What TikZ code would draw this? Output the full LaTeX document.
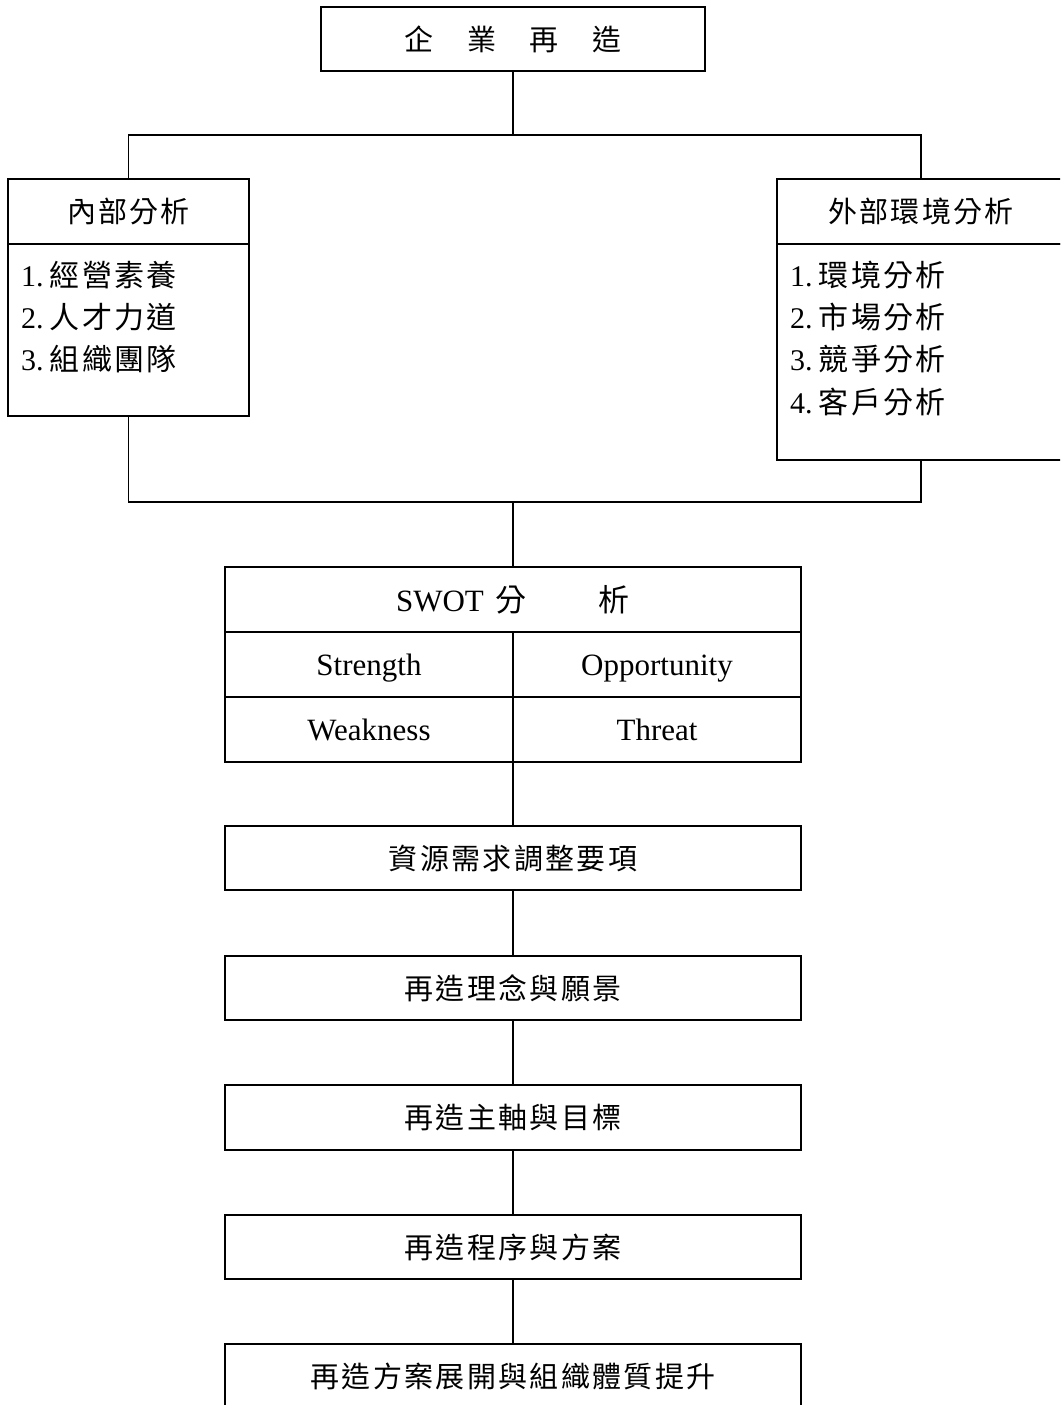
\documentclass[tikz,border=0pt]{standalone}
\usepackage{fontspec}
\setmainfont{Liberation Serif}
\newfontfamily\cjk[LetterSpace=8]{Noto Sans CJK TC}
\begin{document}
\begin{tikzpicture}[x=1pt,y=-1pt,
  ln/.style={line width=1.7pt},
  bx/.style 2 args={draw, line width=1.7pt, inner sep=0pt, minimum width=#1, minimum height=#2,
    font=\fontsize{29}{35}\selectfont\cjk},
  lat/.style={draw, line width=1.7pt, inner sep=0pt, minimum width=288pt, minimum height=65pt,
    font=\fontsize{31}{36}\selectfont, text height=21pt, text depth=0pt},
  item/.style={anchor=west, inner sep=0pt, font=\fontsize{30}{35}\selectfont}]
\useasboundingbox (0,0) rectangle (1060,1405);
\clip (0,0) rectangle (1060,1405);
\fill[white] (0,0) rectangle (1060,1405);

% top
\node[bx={384pt}{64pt}] (top) at (513,39) {企　業　再　造};

% left box
\node[bx={241pt}{65pt}] (lhead) at (128.5,211.5) {內部分析};
\node[bx={241pt}{172pt}] (lbody) at (128.5,330) {};
\node[item] (l1) at (21,275) {1.\hspace{6pt}{\cjk 經營素養}};
\node[item] (l2) at (21,317) {2.\hspace{6pt}{\cjk 人才力道}};
\node[item] (l3) at (21,359) {3.\hspace{6pt}{\cjk 組織團隊}};

% right box
\node[bx={288pt}{65pt}] (rhead) at (921,211.5) {外部環境分析};
\node[bx={288pt}{216pt}] (rbody) at (921,352) {};
\node[item] (r1) at (790,275) {1.\hspace{6pt}{\cjk 環境分析}};
\node[item] (r2) at (790,317) {2.\hspace{6pt}{\cjk 市場分析}};
\node[item] (r3) at (790,359) {3.\hspace{6pt}{\cjk 競爭分析}};
\node[item] (r4) at (790,402) {4.\hspace{6pt}{\cjk 客戶分析}};

% SWOT
\node[bx={576pt}{65pt}, font=\fontsize{31}{36}\selectfont] (swot) at (513,599.5)
  {SWOT\hspace{12pt}{\cjk 分}\hspace{72pt}{\cjk 析}};
\node[lat] (str) at (369,664.5) {Strength};
\node[lat] (opp) at (657,664.5) {Opportunity};
\node[lat] (wea) at (369,729.5) {Weakness};
\node[lat] (thr) at (657,729.5) {Threat};

% chain
\node[bx={576pt}{64pt}] (res) at (513,858) {資源需求調整要項};
\node[bx={576pt}{64pt}] (idea) at (513,988) {再造理念與願景};
\node[bx={576pt}{65pt}] (axis) at (513,1117.5) {再造主軸與目標};
\node[bx={576pt}{64pt}] (proc) at (513,1247) {再造程序與方案};
\node[bx={576pt}{65pt}] (fin) at (513,1376.5) {再造方案展開與組織體質提升};

% connectors
\coordinate (j1) at (513,135);
\coordinate (j2) at (513,502);
\draw[ln] (top.south) -- (j1);
\draw[ln] (lhead.north) |- (j1) -| (rhead.north);
\draw[ln] (lbody.south) |- (j2) -| (rbody.south);
\draw[ln] (j2) -- (swot.north);
\draw[ln] (swot.south) -- (res.north);
\draw[ln] (res.south) -- (idea.north);
\draw[ln] (idea.south) -- (axis.north);
\draw[ln] (axis.south) -- (proc.north);
\draw[ln] (proc.south) -- (fin.north);
\end{tikzpicture}
\end{document}
